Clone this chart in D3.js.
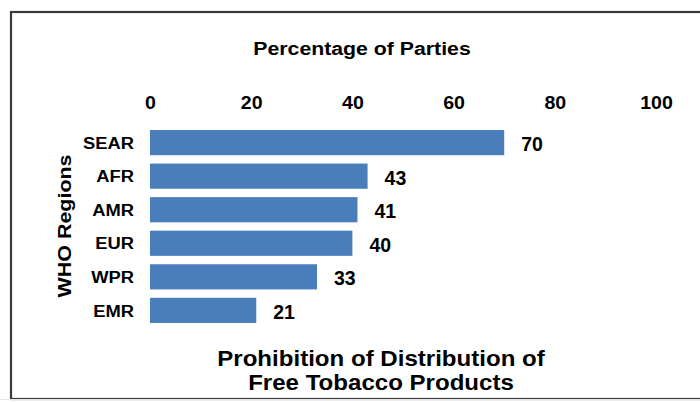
<!DOCTYPE html>
<html>
<head>
<meta charset="utf-8">
<script src="https://cdn.jsdelivr.net/npm/d3@7"></script>
<style>
  body { margin: 0; background: #fff; }
  text { font-family: Arial, "Liberation Sans", sans-serif; font-weight: bold; fill: #000; }
</style>
</head>
<body>
<div id="chart"></div>
<script>
  // data
  const regions = ["SEAR", "AFR", "AMR", "EUR", "WPR", "EMR"];
  const percents = [70, 43, 41, 40, 33, 21];
  const ticks = [0, 20, 40, 60, 80, 100];

  const width = 700, height = 402;
  const svg = d3.select("#chart").append("svg")
    .attr("width", width)
    .attr("height", height);

  // frame around the chart
  svg.append("rect")
    .attr("x", 11).attr("y", 12)
    .attr("width", 720).attr("height", 387)
    .attr("fill", "none")
    .attr("stroke", "#3a3a3a")
    .attr("stroke-width", 2.2);
  svg.append("line")
    .attr("x1", 0).attr("x2", width)
    .attr("y1", 399.5).attr("y2", 399.5)
    .attr("stroke", "#e6e6e6");

  const x = d3.scaleLinear().domain([0, 100]).range([150, 656]);
  const y = d3.scaleBand().domain(regions).range([126, 327]).paddingInner(0.25).paddingOuter(0.12);

  // top axis, labels only
  const axis = d3.axisTop(x).tickValues(ticks).tickSize(0).tickPadding(0);
  const gx = svg.append("g").attr("transform", "translate(0,109)").call(axis);
  gx.select(".domain").remove();
  gx.selectAll("text")
    .style("font-size", "19px")
    .attr("dy", 0)
    .attr("transform", "scale(1.03,1)");

  svg.append("text")
    .attr("transform", "translate(362,55) scale(1.15,1)")
    .attr("text-anchor", "middle")
    .style("font-size", "18.5px")
    .text("Percentage of Parties");

  // category labels
  const gy = svg.append("g").attr("transform", "translate(134,0)")
    .call(d3.axisLeft(y).tickSize(0).tickPadding(0));
  gy.select(".domain").remove();
  gy.selectAll("text")
    .style("font-size", "17px")
    .attr("dy", "0.36em")
    .attr("transform", "scale(1.08,1)");

  svg.append("text")
    .attr("transform", "translate(71,226) rotate(-90) scale(1.13,1)")
    .attr("text-anchor", "middle")
    .style("font-size", "19px")
    .text("WHO Regions");

  // bars
  svg.append("g").selectAll("rect")
    .data(regions)
    .enter().append("rect")
    .attr("x", x(0))
    .attr("y", d => y(d))
    .attr("width", (d, i) => x(percents[i]) - x(0))
    .attr("height", y.bandwidth())
    .attr("fill", "#4a7ebb");

  // value labels
  svg.append("g").selectAll("text")
    .data(regions)
    .enter().append("text")
    .attr("x", (d, i) => x(percents[i]) + 17)
    .attr("y", d => y(d) + y.bandwidth() / 2 + 1.5)
    .attr("dy", "0.36em")
    .style("font-size", "19.5px")
    .text((d, i) => percents[i]);

  svg.append("text")
    .attr("transform", "translate(381,0) scale(1.12,1)")
    .attr("text-anchor", "middle")
    .style("font-size", "21.5px")
    .selectAll("tspan")
    .data(["Prohibition of Distribution of", "Free Tobacco Products"])
    .enter().append("tspan")
    .attr("x", 0)
    .attr("y", (d, i) => 366 + i * 24)
    .text(d => d);
</script>
</body>
</html>
